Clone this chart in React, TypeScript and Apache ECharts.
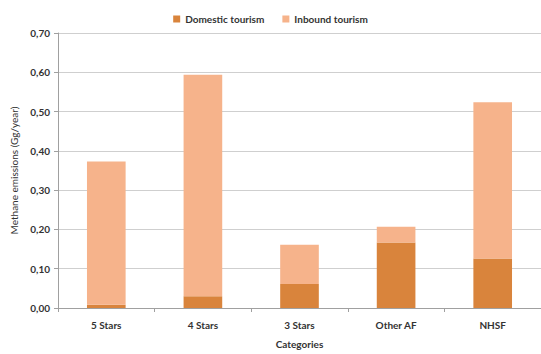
import React, { useEffect, useRef } from "react";
import * as echarts from "echarts";

const categories = ["5 Stars", "4 Stars", "3 Stars", "Other AF", "NHSF"];
const domestic = [0.008, 0.03, 0.061, 0.167, 0.126];
const inbound = [0.365, 0.564, 0.1, 0.04, 0.398];

const FONT = "Lato";

export default function App() {
  const ref = useRef<HTMLDivElement>(null);
  useEffect(() => {
    const chart = echarts.init(ref.current!, null, { renderer: "svg" });
    chart.setOption({
      animation: false,
      legend: {
        top: 9,
        left: "center",
        itemWidth: 7,
        itemHeight: 7,
        itemGap: 18,
        icon: "rect",
        textStyle: { fontFamily: FONT, fontWeight: "bold", fontSize: 10, color: "#333" },
        data: ["Domestic tourism", "Inbound tourism"],
      },
      grid: { left: 58, right: -5, top: 33, bottom: 43 },
      xAxis: {
        type: "category",
        data: categories,
        name: "Categories",
        nameLocation: "middle",
        nameGap: 31,
        nameTextStyle: { fontFamily: FONT, fontWeight: "bold", fontSize: 10, color: "#333" },
        axisLine: { lineStyle: { color: "#a0a0a0" } },
        axisTick: { show: true, length: 4, lineStyle: { color: "#a0a0a0" } },
        axisLabel: { fontFamily: FONT, fontWeight: "bold", fontSize: 10, color: "#333", margin: 12 },
      },
      yAxis: {
        type: "value",
        min: 0,
        max: 0.7,
        interval: 0.1,
        name: "Methane emissions (Gg/year)",
        nameLocation: "middle",
        nameGap: 34,
        nameTextStyle: { fontFamily: FONT, fontSize: 10, color: "#333" },
        axisLine: { show: true, lineStyle: { color: "#a0a0a0" } },
        axisTick: { show: true, length: 4, lineStyle: { color: "#a0a0a0" } },
        splitLine: { lineStyle: { color: "#cfcfcf" } },
        axisLabel: {
          fontFamily: FONT,
          fontWeight: "bold",
          fontSize: 10,
          color: "#333",
          margin: 8,
          formatter: (v: number) => v.toFixed(2).replace(".", ","),
        },
      },
      series: [
        {
          name: "Domestic tourism",
          type: "bar",
          stack: "t",
          barWidth: "40%",
          data: domestic,
          itemStyle: { color: "#D9843C" },
        },
        {
          name: "Inbound tourism",
          type: "bar",
          stack: "t",
          barWidth: "40%",
          data: inbound,
          itemStyle: { color: "#F6B38B" },
        },
      ],
    });
    return () => chart.dispose();
  }, []);
  return <div ref={ref} style={{ width: 541, height: 354, position: "absolute", left: 0, top: 0 }} />;
}
